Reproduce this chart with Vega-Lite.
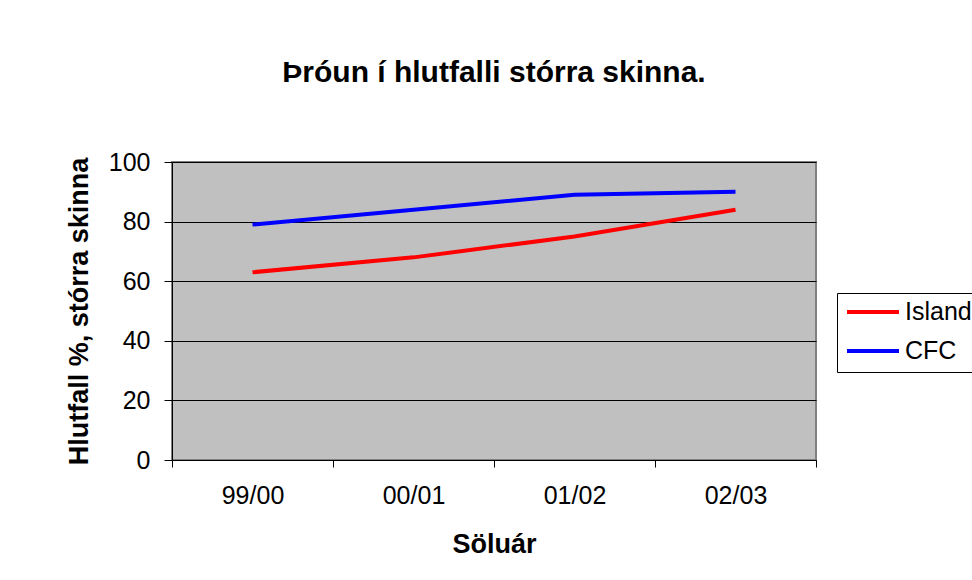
{
  "$schema": "https://vega.github.io/schema/vega-lite/v6.json",
  "width": 644,
  "height": 298,
  "autosize": {"type": "none"},
  "padding": {"left": 172, "top": 162, "right": 156, "bottom": 120},
  "background": "white",
  "title": {
    "text": "Þróun í hlutfalli stórra skinna.",
    "font": "Liberation Sans",
    "fontSize": 30,
    "fontWeight": "bold",
    "color": "black",
    "baseline": "alphabetic",
    "offset": 38,
    "anchor": "middle"
  },
  "data": {
    "values": [
      {"ar": "99/00", "land": "Island", "hlutfall": 63},
      {"ar": "00/01", "land": "Island", "hlutfall": 68},
      {"ar": "01/02", "land": "Island", "hlutfall": 75},
      {"ar": "02/03", "land": "Island", "hlutfall": 84},
      {"ar": "99/00", "land": "CFC", "hlutfall": 79},
      {"ar": "00/01", "land": "CFC", "hlutfall": 84},
      {"ar": "01/02", "land": "CFC", "hlutfall": 89},
      {"ar": "02/03", "land": "CFC", "hlutfall": 90}
    ]
  },
  "mark": {"type": "line", "strokeWidth": 4},
  "encoding": {
    "x": {
      "field": "ar",
      "type": "ordinal",
      "sort": ["99/00", "00/01", "01/02", "02/03"],
      "scale": {"type": "band", "paddingInner": 0, "paddingOuter": 0},
      "axis": {
        "title": "Söluár",
        "labelAngle": 0,
        "tickBand": "extent",
        "grid": false,
        "domainColor": "black",
        "tickColor": "black",
        "tickSize": 7,
        "labelFont": "Liberation Sans",
        "labelFontSize": 25,
        "labelColor": "black",
        "labelPadding": 16,
        "titleFont": "Liberation Sans",
        "titleFontSize": 27,
        "titleFontWeight": "bold",
        "titleColor": "black",
        "titlePadding": 23
      }
    },
    "y": {
      "field": "hlutfall",
      "type": "quantitative",
      "scale": {"domain": [0, 100], "nice": false},
      "axis": {
        "title": "Hlutfall %, stórra skinna",
        "values": [0, 20, 40, 60, 80, 100],
        "grid": true,
        "gridColor": "black",
        "gridOpacity": 1,
        "domainColor": "black",
        "tickColor": "black",
        "tickSize": 8,
        "labelFont": "Liberation Sans",
        "labelFontSize": 25,
        "labelColor": "black",
        "labelPadding": 14,
        "titleFont": "Liberation Sans",
        "titleFontSize": 27,
        "titleFontWeight": "bold",
        "titleColor": "black",
        "titlePadding": 15
      }
    },
    "color": {
      "field": "land",
      "type": "nominal",
      "sort": ["Island", "CFC"],
      "scale": {"domain": ["Island", "CFC"], "range": ["#FF0000", "#0000FF"]},
      "legend": {
        "title": null,
        "orient": "none",
        "legendX": 665,
        "legendY": 131,
        "symbolType": "stroke",
        "symbolSize": 2704,
        "symbolStrokeWidth": 4,
        "clipHeight": 22,
        "rowPadding": 14,
        "padding": 8,
        "labelOffset": 4,
        "labelFont": "Liberation Sans",
        "labelFontSize": 25,
        "labelColor": "black",
        "strokeColor": "black",
        "fillColor": "white"
      }
    }
  },
  "config": {
    "view": {"fill": "#C0C0C0", "stroke": "#808080", "strokeWidth": 2}
  }
}
